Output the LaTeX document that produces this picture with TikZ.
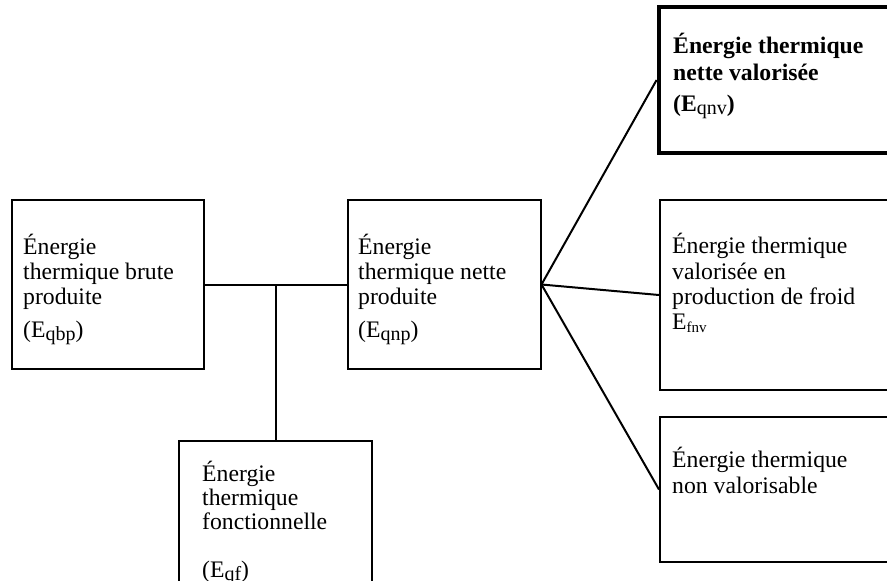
\documentclass[tikz,border=0pt]{standalone}
\usepackage{fontspec}
\setmainfont{Liberation Serif}
% lowered, smaller index letters after E
\newcommand\idx[2][20]{\raisebox{-3.5pt}{\fontsize{#1}{#1}\selectfont #2}}
\begin{document}
\begin{tikzpicture}[x=1pt,y=-1pt,
  box/.style={draw, line width=2pt, rectangle, inner sep=0pt},
  wire/.style={line width=2pt},
  txt/.style={anchor=base west, inner sep=0pt, font=\fontsize{23.7}{26}\selectfont},
  btxt/.style={txt, font=\fontsize{23.7}{26}\selectfont\bfseries}]
  \useasboundingbox (0,0) rectangle (887,581);
  \clip (0,0) rectangle (887,581);

  % boxes
  \node[box, minimum width=192pt, minimum height=169pt] (brute) at (108,284.5) {};
  \node[box, minimum width=192.5pt, minimum height=169pt] (nette) at (444.25,284.5) {};
  \node[box, minimum width=193pt, minimum height=169pt] (fonct) at (275.5,525.5) {};
  \node[draw, line width=4.8pt, rectangle, inner sep=0pt, minimum width=260pt, minimum height=146pt] (valo) at (789,80) {};
  \node[box, minimum width=260pt, minimum height=190pt] (froid) at (790,295) {};
  \node[box, minimum width=260pt, minimum height=145pt] (nonval) at (790,489.5) {};

  % connectors
  \coordinate (split) at (fonct.north |- brute.east);
  \draw[wire] (brute.east) -- (nette.west);
  \draw[wire] (split) -- (fonct.north);
  \draw[wire] (nette.east) -- (valo.west);
  \draw[wire] (nette.east) -- (froid.west);
  \draw[wire] (nette.east) -- (nonval.west);

  % texts
  \node[txt] (b1) at (23,254) {Énergie};
  \node[txt] (b2) at (23,279) {thermique brute};
  \node[txt] (b3) at (23,304) {produite};
  \node[txt] (b4) at (23,337) {(E\idx{qbp})};

  \node[txt] (n1) at (358,254) {Énergie};
  \node[txt] (n2) at (358,279) {thermique nette};
  \node[txt] (n3) at (358,304) {produite};
  \node[txt] (n4) at (358,337) {(E\idx{qnp})};

  \node[txt] (f1) at (202,481) {Énergie};
  \node[txt] (f2) at (202,505) {thermique};
  \node[txt] (f3) at (202,529) {fonctionnelle};
  \node[txt] (f4) at (202,577) {(E\idx{qf})};

  \node[btxt] (v1) at (673,53) {Énergie thermique};
  \node[btxt] (v2) at (673,80) {nette valorisée};
  \node[btxt] (v3) at (673,111) {(E\idx{\mdseries qnv})};

  \node[txt] (c1) at (672,253) {Énergie thermique};
  \node[txt] (c2) at (672,279) {valorisée en};
  \node[txt] (c3) at (672,304) {production de froid};
  \node[txt] (c4) at (672,329) {E\idx[15]{fnv}};

  \node[txt] (r1) at (672,467) {Énergie thermique};
  \node[txt] (r2) at (672,493) {non valorisable};
\end{tikzpicture}
\end{document}
